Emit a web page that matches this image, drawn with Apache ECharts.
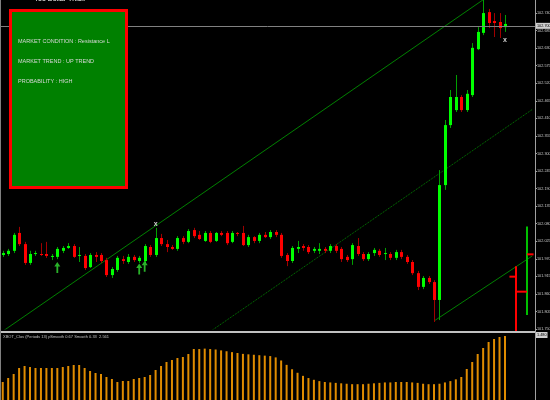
<!DOCTYPE html>
<html><head><meta charset="utf-8">
<script src="https://cdn.jsdelivr.net/npm/echarts@6/dist/echarts.min.js"></script>
<style>html,body{margin:0;padding:0;background:#000;overflow:hidden}#c{width:550px;height:400px}</style>
</head><body><div id="c"></div>
<script>
// ---- data ----
const openP  = [101.982,101.985,101.995,102.051,102.016,101.957,101.985,101.985,101.985,101.976,
                101.976,101.995,102.004,102.010,101.979,101.979,101.944,101.982,101.982,101.966,
                101.919,101.935,101.969,101.960,101.976,101.963,101.963,102.007,101.982,102.035,
                102.016,102.007,102.001,102.035,102.023,102.060,102.045,102.026,102.051,102.026,
                102.051,102.051,102.023,102.051,102.051,102.013,102.038,102.026,102.045,102.038,
                102.054,102.045,101.982,101.963,102.001,102.010,102.007,101.995,101.995,102.001,
                101.995,102.010,102.001,101.976,101.969,102.010,101.985,101.969,101.988,101.995,
                101.985,101.985,101.973,101.991,101.976,101.960,101.925,101.882,101.910,101.897,
                101.841,102.201,102.389,102.436,102.477,102.436,102.483,102.627,102.678,102.743,
                102.715,102.712,102.696];
const closeP = [101.988,101.995,102.045,102.016,101.957,101.985,101.988,101.982,101.979,101.979,
                102.001,102.004,102.010,101.976,101.982,101.941,101.982,101.976,101.963,101.919,
                101.938,101.973,101.963,101.976,101.966,101.973,102.010,101.982,102.035,102.016,
                102.007,102.001,102.035,102.023,102.057,102.041,102.032,102.051,102.023,102.051,
                102.045,102.019,102.051,102.048,102.013,102.038,102.026,102.045,102.038,102.054,
                102.045,101.979,101.963,102.004,102.007,102.004,101.991,102.001,102.001,101.995,
                102.010,101.995,101.969,101.966,102.013,101.985,101.969,101.985,101.998,101.982,
                101.988,101.973,101.991,101.976,101.960,101.925,101.882,101.910,101.897,101.841,
                102.201,102.389,102.477,102.477,102.436,102.487,102.631,102.681,102.740,102.709,
                102.709,102.693,102.706];
const lowP   = [101.976,101.979,101.988,102.010,101.951,101.951,101.979,101.979,101.973,101.966,
                101.969,101.988,102.001,101.973,101.960,101.935,101.941,101.960,101.957,101.913,
                101.910,101.929,101.954,101.954,101.960,101.957,101.957,101.976,101.976,102.010,
                101.991,101.998,101.995,102.016,102.019,102.035,102.029,102.023,102.019,102.023,
                102.041,102.013,102.019,102.041,102.010,102.007,102.019,102.019,102.035,102.032,
                102.038,101.973,101.947,101.957,101.988,101.995,101.985,101.988,101.985,101.988,
                101.988,101.988,101.960,101.960,101.951,101.979,101.963,101.963,101.979,101.976,
                101.966,101.966,101.966,101.969,101.954,101.919,101.872,101.875,101.891,101.772,
                101.778,102.186,102.380,102.430,102.430,102.430,102.477,102.624,102.671,102.693,
                102.665,102.662,102.681];
const highP  = [101.995,102.001,102.051,102.070,102.023,101.995,101.995,102.019,102.023,101.985,
                102.007,102.010,102.019,102.016,102.007,101.985,101.988,101.991,101.988,101.973,
                101.944,101.979,101.979,101.985,101.982,101.979,102.016,102.013,102.067,102.048,
                102.029,102.013,102.041,102.041,102.063,102.067,102.057,102.057,102.057,102.054,
                102.057,102.057,102.057,102.054,102.073,102.045,102.041,102.051,102.054,102.060,
                102.060,102.051,101.988,102.010,102.026,102.016,102.013,102.007,102.019,102.007,
                102.016,102.016,102.007,101.982,102.019,102.035,101.991,101.991,102.004,102.001,
                102.004,101.991,101.998,101.998,101.982,101.966,101.932,101.916,101.916,101.903,
                102.248,102.405,102.499,102.546,102.483,102.499,102.646,102.696,102.781,102.753,
                102.740,102.740,102.734];
const oscValues = [0.410,0.501,0.592,0.729,0.774,0.751,0.729,0.729,0.729,0.729,
                   0.729,0.751,0.774,0.797,0.797,0.729,0.660,0.615,0.592,0.524,
                   0.478,0.410,0.433,0.433,0.478,0.501,0.524,0.569,0.683,0.774,
                   0.865,0.911,0.956,0.979,1.047,1.161,1.16,1.17,1.16,1.15,
                   1.13,1.11,1.09,1.07,1.05,1.04,1.03,1.02,1.01,1.00,
                   0.97,0.90,0.80,0.70,0.62,0.55,0.50,0.46,0.43,0.41,
                   0.40,0.39,0.38,0.37,0.36,0.36,0.36,0.37,0.38,0.39,
                   0.40,0.40,0.41,0.41,0.41,0.40,0.39,0.37,0.36,0.36,
                   0.37,0.40,0.43,0.47,0.524,0.706,0.865,1.047,1.184,1.321,
                   1.389,1.434,1.457];
const slotCount = 98;                       // bars + empty right shift
const priceTicks = {min: 101.750, step: 0.055};
const bidPrice = 102.703;
const trendA = [[0, 101.743], [92, 102.829]];
const trendB = [[38, 101.742], [97, 102.438]];
const trendC = [[79, 101.775], [97, 101.979]];
const arrowPoints = [[10, 101.943], [25, 101.938], [26, 101.947]];
const crossPoints = [[28, 102.079], [92, 102.656]];
const signalBars  = [[94, 101.947, 101.741], [96, 102.071, 101.794]];
const signalTicks = [[94, 101.914], [96, 101.984]];
const signalLink  = [[94, 96, 101.867]];
const oscMax = 1.48;
const titleText = "Yoo Dollar Thick";
const panelLines = ["MARKET CONDITION : Resistance L", "MARKET TREND : UP TREND", "PROBABILITY : HIGH"];
const oscLabel = "XBOT_Clos (Periods 13) pSmooth 0.67 Smooth 0.33  2.561";

// ---- chart ----
const categories = Array.from({length: slotCount}, (_, i) => String(i));
const candleData = openP.map((o, i) => [i, o, closeP[i], lowP[i], highP[i]]);
const FONT = 'Liberation Sans';
const chart = echarts.init(document.getElementById('c'), null, {renderer: 'canvas'});
const sigColors = ['#ff0000', '#00c000'];
const tickSide = [-1, 1];

chart.setOption({
  backgroundColor: '#000',
  animation: false,
  grid: [
    {left: 0, top: 0, width: 535, height: 329, containLabel: false, outerBoundsMode: 'none'},
    {left: 0, top: 335, width: 535, height: 65, containLabel: false, outerBoundsMode: 'none'}
  ],
  xAxis: [
    {type: 'category', data: categories, gridIndex: 0, show: false, boundaryGap: true},
    {type: 'category', data: categories, gridIndex: 1, show: false, boundaryGap: true}
  ],
  yAxis: [
    {type: 'value', gridIndex: 0, position: 'right', scale: true,
     min: priceTicks.min, max: 102.781, interval: priceTicks.step,
     splitLine: {show: false},
     axisLine: {show: true, lineStyle: {color: '#a0a0a0', width: 1}},
     axisTick: {show: true, length: 2, lineStyle: {color: '#a0a0a0'}},
     axisLabel: {show: true, showMaxLabel: false, fontSize: 3.8, fontFamily: FONT, color: '#c8c8c8', margin: 2,
                 formatter: v => v.toFixed(3)}},
    {type: 'value', gridIndex: 1, position: 'right', min: 0, max: oscMax, interval: oscMax,
     splitLine: {show: false},
     axisLine: {show: true, lineStyle: {color: '#a0a0a0'}},
     axisTick: {show: false},
     axisLabel: {show: true, showMinLabel: false, fontSize: 3.8, fontFamily: FONT, color: '#000',
                 backgroundColor: '#d0d0d0', padding: [1, 1], margin: 1, formatter: v => v.toFixed(3)}}
  ],
  series: [
    {type: 'line', name: 'trendA', data: trendA, xAxisIndex: 0, yAxisIndex: 0, symbol: 'none',
     lineStyle: {color: '#008000', width: 1}, z: 2, silent: true,
     markLine: {symbol: 'none', silent: true, animation: false,
       lineStyle: {color: '#808080', type: 'solid', width: 1},
       label: {show: true, position: 'end', distance: 1, fontSize: 3.8, fontFamily: FONT, color: '#000',
               backgroundColor: '#d0d0d0', padding: [1, 1], formatter: p => p.value.toFixed(3)},
       data: [{yAxis: bidPrice}]}},
    {type: 'line', name: 'trendB', data: trendB, symbol: 'none',
     lineStyle: {color: '#008000', width: 1, type: [1, 1]}, z: 2, silent: true},
    {type: 'line', name: 'trendC', data: trendC, symbol: 'none',
     lineStyle: {color: '#008000', width: 1}, z: 2, silent: true},
    {type: 'custom', name: 'candles', data: candleData, xAxisIndex: 0, yAxisIndex: 0, z: 3,
     encode: {x: 0, y: [1, 2, 3, 4]},
     renderItem: (params, api) => {
       const i = api.value(0), o = api.value(1), c = api.value(2), l = api.value(3), h = api.value(4);
       const pO = api.coord([i, o]), pC = api.coord([i, c]), pL = api.coord([i, l]), pH = api.coord([i, h]);
       const x = Math.round(pO[0]) + 0.5;
       const up = c >= o;
       const top = Math.min(pO[1], pC[1]), bot = Math.max(pO[1], pC[1]);
       return {type: 'group', children: [
         {type: 'line', shape: {x1: x, y1: pH[1], x2: x, y2: pL[1]},
          style: {stroke: up ? '#00a000' : '#a00000', lineWidth: 1}},
         {type: 'rect', shape: {x: x - 1.5, y: top, width: 3, height: Math.max(bot - top, 1)},
          style: {fill: up ? '#00ff00' : '#ff0000'}}
       ]};
     }},
    {type: 'custom', name: 'sigBars', data: signalBars, clip: false, z: 3,
     renderItem: (params, api) => {
       const a = api.coord([api.value(0), api.value(1)]), b = api.coord([api.value(0), api.value(2)]);
       const x = Math.round(a[0]);
       return {type: 'line', shape: {x1: x, y1: a[1], x2: x, y2: b[1]},
               style: {stroke: sigColors[params.dataIndex], lineWidth: 2}};
     }},
    {type: 'custom', name: 'sigTicks', data: signalTicks, clip: false, z: 3,
     renderItem: (params, api) => {
       const a = api.coord([api.value(0), api.value(1)]);
       const w = api.size([1, 0])[0];
       const x = Math.round(a[0]);
       return {type: 'line', shape: {x1: x, y1: a[1], x2: x + tickSide[params.dataIndex] * w * 1.2, y2: a[1]},
               style: {stroke: '#ff0000', lineWidth: 2}};
     }},
    {type: 'custom', name: 'sigLink', data: signalLink, clip: false, z: 3,
     renderItem: (params, api) => {
       const a = api.coord([api.value(0), api.value(2)]), b = api.coord([api.value(1), api.value(2)]);
       return {type: 'line', shape: {x1: Math.round(a[0]), y1: a[1], x2: Math.round(b[0]), y2: a[1]},
               style: {stroke: '#ff0000', lineWidth: 2}};
     }},
    {type: 'scatter', name: 'arrows', data: arrowPoints, z: 4, silent: true,
     symbol: 'path://M5,0 L10,5 L6.5,5 L6.5,12 L3.5,12 L3.5,5 L0,5 Z', symbolSize: [6, 11],
     itemStyle: {color: '#33dd33'}},
    {type: 'scatter', name: 'cross', data: crossPoints, z: 4, silent: true, symbolSize: 0,
     label: {show: true, position: 'inside', formatter: 'x', color: '#ffffff', fontSize: 7,
             fontWeight: 'bold', fontFamily: FONT}},
    {type: 'bar', name: 'osc', data: oscValues, xAxisIndex: 1, yAxisIndex: 1, barWidth: 2,
     itemStyle: {color: '#e08c00'}, silent: true}
  ],
  graphic: [
    {type: 'rect', shape: {x: 0, y: 331, width: 535, height: 2}, style: {fill: '#c0c0c0'}, z: 10},
    {type: 'line', shape: {x1: 0.5, y1: 0, x2: 0.5, y2: 400}, style: {stroke: '#808080', lineWidth: 1}, z: 10},
    {type: 'line', shape: {x1: 535.5, y1: 0, x2: 535.5, y2: 400}, style: {stroke: '#a0a0a0', lineWidth: 1}, z: 10},
    {type: 'text', x: 34, y: -4, style: {text: titleText, fill: '#ffffff', fontSize: 7, fontFamily: FONT}, z: 10},
    {type: 'rect', shape: {x: 10.5, y: 10.5, width: 116, height: 177},
     style: {fill: '#008000', stroke: '#ff0000', lineWidth: 3}, z: 10},
    {type: 'text', x: 18, y: 38, style: {text: panelLines[0], fill: '#d8d8d8', fontSize: 5.5, fontFamily: FONT}, z: 11},
    {type: 'text', x: 18, y: 58, style: {text: panelLines[1], fill: '#d8d8d8', fontSize: 5.5, fontFamily: FONT}, z: 11},
    {type: 'text', x: 18, y: 78, style: {text: panelLines[2], fill: '#d8d8d8', fontSize: 5.5, fontFamily: FONT}, z: 11},
    {type: 'text', x: 3, y: 335, style: {text: oscLabel, fill: '#c0c0c0', fontSize: 4, fontFamily: FONT}, z: 11}
  ]
});
</script></body></html>
